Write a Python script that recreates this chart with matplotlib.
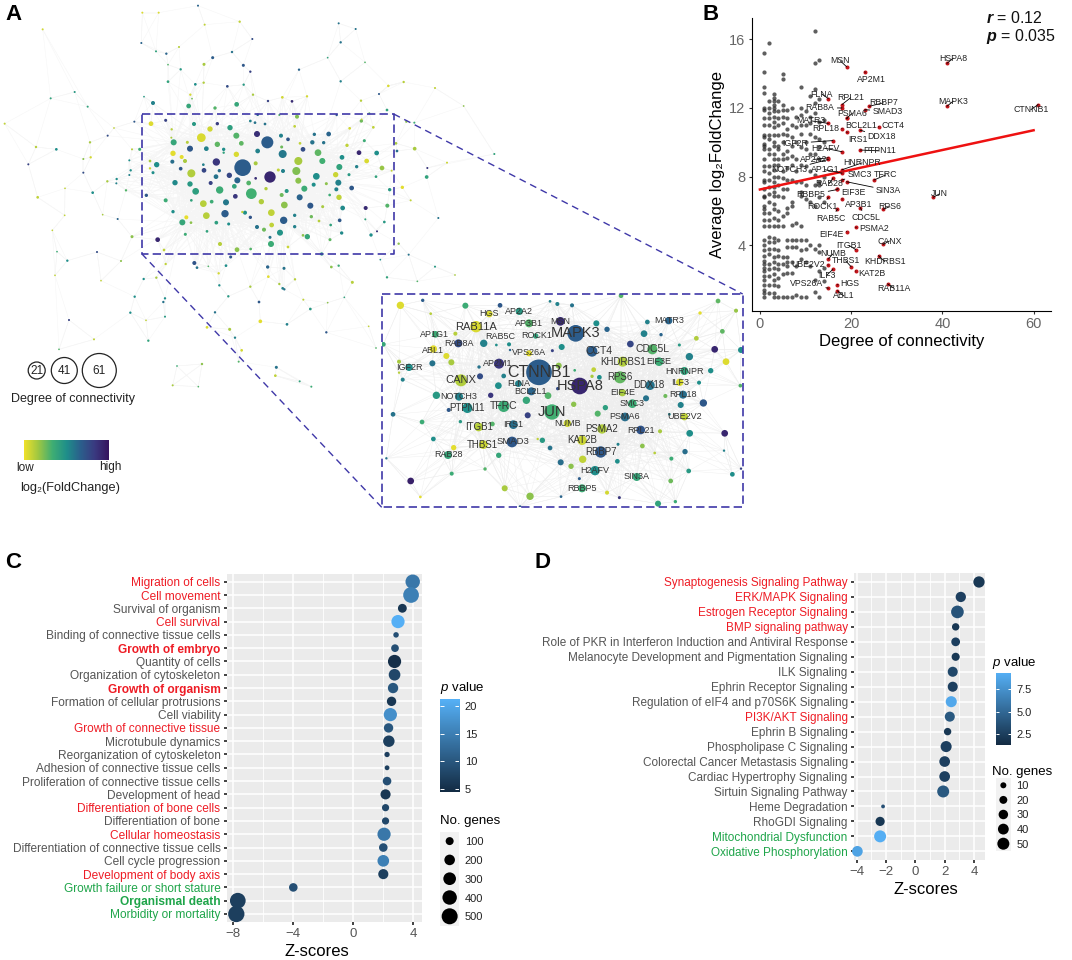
import numpy as np
import matplotlib
matplotlib.use('Agg')
from matplotlib import pyplot as plt
from matplotlib.collections import LineCollection
from matplotlib.colors import LinearSegmentedColormap, Normalize

plt.rcParams['font.family'] = ['Liberation Sans', 'DejaVu Sans']
plt.rcParams['mathtext.fontset'] = 'custom'
plt.rcParams['mathtext.rm'] = 'Liberation Sans'
plt.rcParams['mathtext.it'] = 'Liberation Sans:italic'
plt.rcParams['mathtext.bf'] = 'Liberation Sans:bold'
plt.rcParams['mathtext.bfit'] = 'Liberation Sans:italic:bold'

W, H = 1072, 960

# panel A, overview network: x, y, diameter, fold change rank (high = purple)
net_nodes = [
    (728,203,48,.68),(802,127,34,.68),(810,231,32,.92),(754,281,30,.33),(604,113,24,.05),(574,220,22,.13),
    (587,274,18,.42),(659,270,20,.35),(848,162,22,.58),(895,183,22,.15),(889,213,22,.22),(954,158,18,.28),
    (967,183,16,.33),(895,242,16,.2),(913,266,16,.35),(949,229,18,.5),(1015,248,16,.55),(1018,201,16,.4),
    (1007,224,14,.08),(1017,292,14,.1),(899,292,16,.65),(931,317,16,.7),(851,361,20,.68),(853,315,18,.2),
    (814,338,18,.1),(815,375,12,.1),(840,398,16,.48),(813,432,16,.35),(922,410,14,.38),(1028,324,12,.52),
    (1055,264,12,.7),(1097,324,10,.9),(1077,158,12,.92),(1130,159,12,.5),(1100,183,12,.05),(1146,204,12,.18),
    (1162,317,10,.3),(1113,405,8,.5),(675,341,20,.68),(678,307,16,.58),(619,347,18,.12),(610,311,18,.12),
    (547,367,16,.38),(559,352,10,.02),(473,419,12,.92),(570,252,14,.45),(525,248,14,.52),(521,127,16,.38),
    (519,160,14,.03),(545,171,10,.03),(555,183,10,.15),(570,146,16,.7),(470,194,14,.5),(517,185,10,.62),
    (542,206,9,.7),(497,301,10,.35),(612,211,12,.78),(649,186,20,.85),(630,87,14,.07),(652,133,14,.28),
    (709,107,16,.3),(724,130,12,.28),(771,102,16,.88),(690,83,14,.42),(619,146,12,.55),(671,148,8,.5),
    (709,163,14,.05),(582,72,10,.45),(652,71,8,.82),(453,71,12,.04),(497,61,7,.8),(773,153,12,.55),
    (843,107,10,.55),(864,118,9,.72),(845,141,7,.25),(909,148,12,.75),(937,127,11,.6),(971,128,8,.6),
    (943,103,8,.6),(986,102,12,.65),(1041,136,8,.1),(1093,122,7,.35),(1084,63,8,.25),(1120,82,6,.1),
    (1049,85,6,.07),(900,130,6,.1),(884,79,6,.1),(751,63,6,.55),(765,68,6,.6),(795,72,6,.6),
    (767,190,10,.15),(688,226,14,.78),(712,241,16,.65),(648,230,12,.6),(632,249,10,.8),(658,212,8,.62),
    (746,249,12,.3),(703,259,12,.4),(706,289,12,.85),(767,235,6,.88),(798,266,8,.13),(784,305,14,.13),
    (845,285,10,.25),(860,273,10,.45),(849,213,10,.55),(835,210,7,.1),(941,254,10,.5),(979,251,7,.2),
    (1009,268,10,.55),(989,285,6,.35),(1047,224,7,.45),(1070,200,8,.55),(1026,172,12,.5),(1128,230,6,.4),
    (968,320,7,.15),(934,350,8,.25),(957,363,6,.12),(884,346,8,.55),(884,380,8,.55),(1025,399,8,.52),
    (1019,361,9,.7),(992,375,6,.4),(990,419,7,.28),(909,406,6,.2),(751,352,8,.72),(735,338,10,.5),
    (727,336,5,.1),(771,381,10,.6),(792,389,10,.25),(810,412,7,.6),(864,441,6,.08),(660,432,10,.12),
    (711,449,12,.2),(752,447,6,.3),(492,450,6,.1),(556,403,7,.35),(621,394,6,.4),(649,368,9,.42),
    (686,372,7,.5),(573,368,6,.2),(519,335,8,.5),(574,301,6,.4),(635,305,9,.35),(439,286,8,.7),
    (459,218,7,.5),(450,183,6,.15),(450,205,5,.08),(515,88,5,.12),(514,113,4,.15),(562,127,7,.12),
    (610,194,6,.55),(671,158,5,.4),(1131,394,4,.85),(1096,358,4,.4),
    (14,71,4,.1),(108,141,5,.12),(169,148,6,.5),(85,193,4,.8),(250,177,4,.2),(272,172,5,.06),(270,127,5,.15),
    (323,107,4,.75),(342,84,3,.1),(250,218,4,.75),(195,265,3,.1),(113,292,6,.1),(278,278,6,.5),(322,244,5,.15),
    (350,237,5,.5),(349,250,4,.55),(378,271,5,.3),(388,225,4,.55),(392,211,5,.5),(388,181,4,.5),(403,65,4,.7),
    (396,148,4,.12),(419,148,7,.35),(194,346,3,.1),(308,344,3,.15),(353,357,4,.65),(157,391,3,.1),(396,410,7,.2),
    (171,455,3,.35),(291,456,4,.75),(202,482,5,.5),(363,483,4,.2),(165,526,3,.1),(303,542,3,.1),
    (583,489,10,.72),(591,503,6,.6),(692,471,7,.7),(678,497,6,.5),(625,499,3,.3),(497,492,5,.1),(656,520,5,.06),
    (803,501,8,.65),(852,505,7,.6),(805,530,6,.03),(838,552,5,.15),(848,565,6,.55),(853,568,5,.6),(885,538,5,.12),
    (658,556,5,.5),(751,560,5,.15),(431,537,5,.5),(469,533,5,.15),(404,590,5,.5),(490,606,5,.6),(495,595,5,.5),
    (391,638,5,.5),(207,660,4,.8),(438,661,3,.1),(495,650,4,.45),(282,718,4,.1),(445,722,5,.4),(177,748,3,.3),
    (621,682,6,.05),(689,688,7,.15),(781,664,9,.03),(861,673,6,.55),(705,713,5,.55),(979,697,5,.7),(725,751,6,.06),
    (777,606,6,.7),(685,589,5,.45),(910,599,4,.1),(983,608,3,.2),(1033,592,3,.4),(931,627,6,.45),(645,637,5,.6),
    (531,798,3,.35),(606,792,5,.2),(716,785,4,.3),(829,802,7,.6),(826,827,6,.1),(899,844,4,.4),(934,860,4,.35),
    (518,856,4,.15),(595,860,3,.3),(965,462,8,.45),(1016,497,5,.35),(994,501,6,.2),(1057,547,7,.12),(1141,479,3,.5),
    (1106,679,3,.1),(1128,744,3,.3),
    (128,-212,4,.07),(427,-262,4,.05),(476,-262,4,.05),(594,-283,4,.65),(614,-226,4,.1),(719,-235,5,.1),
    (424,-171,4,.65),(757,-183,4,.75),(468,-146,4,.4),(499,-139,5,.65),(537,-159,4,.12),(638,-127,7,.68),
    (696,-144,5,.6),(504,-106,3,.3),(612,-107,7,.15),(730,-104,7,.7),(751,-85,5,.8),(542,-92,5,.45),(504,-55,6,.4),
    (586,-47,6,.5),(611,-52,5,.13),(682,-41,6,.75),(731,-46,5,.45),(571,-16,5,.06),(576,-4,3,.25),(759,-16,5,.15),
    (432,-10,3,.45),(224,-24,4,.45),(152,-5,4,.4),(263,20,4,.4),(459,9,10,.55),(566,18,12,.38),(645,24,8,.3),
    (710,13,12,.38),(804,3,5,.8),(847,-8,6,.07),(876,4,6,.9),(921,-11,5,.06),(1016,-230,4,.6),(1067,-213,4,.6),
    (1022,-173,5,.6),(983,-127,3,.4),(1095,-113,3,.3),(897,-91,5,.65),(1022,-56,5,.55),(1165,-42,5,.05),
    (1137,-18,4,.7),(1083,2,5,.12),(1161,30,6,.4),(891,50,10,.22),(773,44,6,.65),(838,45,4,.3),(1010,45,5,.7),
    (1108,40,4,.3),(1085,58,3,.1),
    (1165,-43,4,.05),(1211,-54,5,.12),(1305,-36,4,.1),(1391,18,3,.2),(1219,65,5,.2),(1243,68,4,.35),
    (1188,130,6,.15),(1191,153,6,.62),(1244,146,9,.15),(1483,162,4,.4),(1341,188,4,.08),(1175,212,4,.1),
    (1282,204,4,.85),(1280,231,9,.4),(1207,262,8,.03),(1169,269,8,.45),(1232,301,4,.1),
    (1315,354,4,.6),(1153,366,6,.45),(1196,431,5,.2),(1226,464,4,.6),
    (1305,500,4,.45),(1365,525,3,.15),(1161,532,5,.4),(1252,544,3,.3),
]

# zoomed network: x, y, diameter, fold change rank
zoom_nodes = [
    (477,247,75,.68),(587,130,48,.68),(599,288,48,.92),(516,366,44,.33),(288,110,32,.05),(243,271,34,.13),
    (357,221,28,.85),(541,94,24,.9),(720,262,34,.27),(728,215,28,.13),(817,178,28,.3),(837,215,24,.35),
    (649,100,16,.5),(681,118,14,.65),(636,184,30,.68),(545,171,16,.5),(751,162,18,.78),(792,131,18,.55),
    (843,134,8,.65),(802,96,12,.55),(866,92,20,.65),(1014,33,12,.28),(1068,62,10,.18),(960,69,8,.03),
    (1027,124,12,.28),(949,145,12,.13),(898,165,7,.45),(1004,178,18,.92),(1083,180,16,.5),(928,200,20,.55),
    (1038,215,18,.04),(913,243,22,.4),(992,242,14,.5),(957,278,10,.5),(899,277,20,.05),(1081,287,9,.3),
    (810,286,26,.6),(909,314,22,.62),(856,318,10,.25),(970,339,20,.7),(798,325,16,.6),(902,345,16,.55),
    (727,308,20,.15),(757,341,24,.35),(868,373,6,.55),(913,380,20,.1),(735,381,24,.62),(676,353,14,.42),
    (653,371,16,.3),(581,343,14,.2),(504,317,18,.3),(439,331,20,.38),(454,304,22,.65),(533,296,8,.75),
    (415,281,18,.55),(355,287,18,.5),(332,316,14,.85),(300,259,16,.75),(297,231,8,.6),(371,258,12,.55),
    (536,227,16,.2),(584,241,6,.35),(641,239,12,.1),(636,259,8,.15),(658,262,12,.5),(214,217,16,.15),
    (199,198,16,.04),(160,177,20,.03),(226,131,10,.12),(152,71,6,.12),(61,46,20,.04),(128,31,8,.68),
    (256,47,16,.35),(360,46,12,.7),(418,64,20,.45),(447,100,22,.3),(510,34,6,.55),(532,42,10,.55),
    (576,46,10,.6),(328,72,18,.05),(235,160,22,.75),(311,160,20,.55),(349,165,6,.5),(387,163,10,.5),
    (390,180,5,.65),(447,190,16,.03),(517,182,7,.8),(467,138,14,.4),(166,133,18,.35),(87,232,20,.5),
    (57,215,10,.15),(57,248,5,.12),(68,269,10,.55),(157,220,16,.6),(10,163,12,.38),(237,320,22,.55),
    (169,316,20,.45),(262,354,28,.5),(206,360,10,.7),(371,349,32,.35),(443,376,16,.8),(39,373,12,.6),
    (126,396,12,.35),(241,395,8,.45),(296,411,24,.12),(337,402,12,.3),(400,404,24,.62),(562,400,20,.08),
    (666,417,26,.13),(782,420,24,.72),(840,424,10,.15),(929,430,18,.5),(1034,430,18,.92),(160,447,12,.5),
    (396,456,30,.7),(487,451,14,.45),(473,447,5,.1),(221,473,14,.03),(310,464,24,.08),(510,474,12,.6),
    (606,451,26,.08),(662,486,32,.7),(714,463,7,.55),(787,468,12,.2),(824,489,6,.12),(915,485,14,.62),
    (1032,482,5,.55),(204,495,22,.38),(356,496,14,.38),(19,505,5,.6),(608,508,20,.1),(542,517,16,.62),
    (712,514,12,.5),(874,506,10,.35),(573,529,14,.2),(645,542,26,.5),(926,543,12,.45),(1057,553,12,.5),
    (215,551,10,.35),(315,537,8,.3),(598,566,7,.68),(770,561,22,.38),(872,573,12,.25),(92,573,18,.95),
    (374,595,16,.15),(606,595,22,.35),(450,619,20,.2),(681,608,10,.06),(121,621,6,.03),(543,620,6,.65),
    (718,623,7,.85),(834,641,16,.4),(886,635,8,.35),(420,650,6,.7),(723,17,12,.3),(1083,536,5,.8),
]

zoom_labels = [
    ('CTNNB1',477,247,11.5),('MAPK3',587,130,10.5),('HSPA8',599,288,10.5),('JUN',516,366,10.5),('CANX',243,271,8),
    ('RAB11A',288,110,8),('HGS',328,72,6.5),('AP2A2',418,64,6.5),('AP3B1',447,100,6.5),('MSN',542,94,6.5),
    ('MATR3',866,92,6.5),('AP1G1',163,133,6.5),('RAB5C',360,141,6.5),('ROCK1',470,137,6.5),('RAB8A',237,160,6.5),
    ('ABL1',158,181,6.5),('VPS26A',447,187,6.5),('CCT4',657,184,7.5),('CDC5L',817,178,7.5),('KHDRBS1',730,217,7),
    ('EIF3E',837,216,6.5),('AP2M1',352,222,6.5),('IGF2R',87,233,6.5),('HNRNPR',913,244,6.5),('RPS6',720,262,7),
    ('ILF3',899,277,6.5),('FLNA',415,281,6.5),('DDX18',808,286,7),('BCL2L1',452,305,6.5),('EIF4E',727,307,6.5),
    ('RPL18',909,314,6.5),('NOTCH3',237,320,6.5),('SMC3',757,341,6.5),('TFRC',371,349,7.5),('PTPN11',262,354,7),
    ('UBE2V2',913,380,6.5),('PSMA6',735,381,6.5),('NUMB',562,401,6.5),('IRS1',400,404,6.5),('ITGB1',296,411,7),
    ('PSMA2',666,417,7),('RPL21',782,421,6.5),('SMAD3',399,456,6.8),('THBS1',308,464,7),('KAT2B',606,451,7),
    ('RBBP7',662,487,7),('RAB28',204,495,6.5),('H2AFV',645,543,6.5),('SIN3A',770,561,6.5),('RBBP5',606,595,6.5),
]

# panel B: unlabelled genes by degree
free_deg = list(range(1, 15))
free_vals = [
    [15.2,14.1,13.2,12.9,12.0,11.9,11.4,11.0,10.4,10.3,9.9,9.8,9.6,9.0,8.6,8.3,7.8,7.7,7.3,6.9,6.8,6.3,6.1,5.9,5.5,5.1,4.3,4.0,3.7,3.4,3.1,2.9,2.7,2.5,2.2,2.0,1.7,1.4,1.2,1.0],
    [15.8,12.4,12.0,11.7,11.4,11.0,10.4,10.2,9.6,9.3,8.6,8.2,7.8,7.4,7.0,6.5,5.9,5.5,5.1,4.5,4.2,3.8,3.5,2.9,2.6,2.2,1.7,1.2],
    [12.8,12.6,12.4,12.2,12.0,11.8,11.5,11.2,10.9,10.4,10.0,9.8,9.3,9.0,8.7,8.4,8.0,7.7,7.4,7.1,6.9,6.4,6.1,5.6,5.1,4.4,4.2,3.8,3.3,3.0,2.7,2.3,2.0,1.7,1.2,1.0],
    [12.4,11.8,11.4,11.0,10.4,9.8,9.6,9.0,8.7,8.0,7.5,6.9,6.0,5.5,5.1,4.3,3.7,3.4,2.9,2.6,2.1,1.6,1.0],
    [14.0,13.7,12.2,11.9,11.5,11.1,10.5,10.0,9.3,9.0,8.3,7.9,7.3,6.8,5.7,5.1,3.3,2.9,2.3,1.0],
    [11.9,11.4,10.8,10.4,9.5,9.1,8.5,7.8,7.3,6.2,5.9,4.3,3.9,3.3,3.0,2.8,2.4,1.0],
    [12.0,11.0,10.3,9.8,9.2,8.7,7.8,6.5,6.3,5.2,4.3,3.9,3.0,2.4,1.0],
    [11.5,10.9,10.0,9.0,8.3,7.7,5.3,4.3,3.9,2.8,1.1],
    [13.2,12.0,11.6,11.0,10.5,9.7,8.7,7.7,7.1,6.9,5.1,4.3,3.7,3.2,1.0],
    [11.8,11.0,10.0,9.6,8.6,7.5,6.7,4.3,3.8,3.0,1.0],
    [12.7,11.5,11.1,10.5,9.3,8.3,6.5,4.0,2.8],
    [16.5,14.6,13.1,12.3,11.7,10.3,9.3,8.1,7.5,6.3,3.8,2.0,1.3],
    [14.8,12.5,11.2,10.2,9.7,9.0,7.7,7.5,6.8,4.0,3.6,2.5,1.0],
    [11.3,10.0,8.0,6.5,2.7,1.9],
]

# gene, degree, value, label x, label y
gene_names = ['CTNNB1','HSPA8','MAPK3','JUN','MSN','AP2M1','FLNA','RPL21','RBBP7','RAB8A','PSMA6','SMAD3','MATR3','BCL2L1',
              'CCT4','RPL18','IRS1','DDX18','IGF2R','H2AFV','PTPN11','AP2A2','HNRNPR','NOTCH3','AP1G1','SMC3','TFRC','RAB28',
              'SIN3A','EIF3E','RBBP5','ROCK1','AP3B1','RPS6','RAB5C','CDC5L','PSMA2','EIF4E','CANX','ITGB1','NUMB','KHDRBS1',
              'THBS1','UBE2V2','KAT2B','ILF3','HGS','RAB11A','VPS26A','ABL1']
gene_deg = [61,41,41,38,19,23,15,18,24,18,19,23,15,19,26,18,19,22,16,18,22,15,18,15,18,18,25,16,19,17,17,15,18,27,17,22,21,19,27,21,
            15,26,20,15,21,16,17,28,15,17]
gene_val = [12.2,14.6,12.1,6.8,14.4,14.1,12.55,12.2,12.1,12.0,11.4,11.9,11.1,11.4,10.9,10.8,10.6,10.7,10.1,9.45,9.55,9.1,8.4,9.0,8.2,
            7.8,7.8,7.9,7.7,7.3,7.25,6.8,6.7,6.1,6.1,6.2,5.05,4.8,4.05,3.75,3.2,3.4,2.75,2.85,2.5,2.6,1.7,1.75,1.5,1.35]
gene_lab_x = [59.4,42.4,42.4,39.4,17.6,24.4,13.6,19.9,27.1,13.2,20.3,28,11.2,22.2,29.2,14.4,21.4,26.7,7.8,14.3,26.2,11.8,22.4,6.4,14.3,
              21.9,27.6,15.2,28.2,20.5,11.2,13.7,21.7,28.5,15.6,23.2,25,15.7,28.4,19.5,16.0,27.4,18.8,10.6,24.6,14.6,19.8,29.4,10.2,18.4]
gene_lab_y = [11.9,14.9,12.4,7.0,14.75,13.65,12.8,12.6,12.3,12.0,11.7,11.8,11.25,10.95,11.0,10.8,10.15,10.35,9.95,9.65,9.5,9.0,8.8,8.4,
              8.4,8.15,8.1,7.6,7.2,7.05,6.95,6.25,6.35,6.25,5.55,5.6,4.95,4.65,4.25,4.0,3.5,3.05,3.1,2.9,2.35,2.25,1.8,1.5,1.75,1.05]
fit_deg = [0, 60]
fit_val = [7.25, 10.7]

# panel C
c_terms = ['Migration of cells','Cell movement','Survival of organism','Cell survival','Binding of connective tissue cells',
           'Growth of embryo','Quantity of cells','Organization of cytoskeleton','Growth of organism',
           'Formation of cellular protrusions','Cell viability','Growth of connective tissue','Microtubule dynamics',
           'Reorganization of cytoskeleton','Adhesion of connective tissue cells','Proliferation of connective tissue cells',
           'Development of head','Differentiation of bone cells','Differentiation of bone','Cellular homeostasis',
           'Differentiation of connective tissue cells','Cell cycle progression','Development of body axis',
           'Growth failure or short stature','Organismal death','Morbidity or mortality']
c_z = [3.96,3.85,3.27,2.98,2.85,2.78,2.75,2.75,2.65,2.55,2.47,2.35,2.37,2.25,2.25,2.25,2.15,2.15,2.15,2.05,2.0,2.0,2.0,-4.0,-7.7,-7.8]
c_genes = [400,480,130,330,30,90,330,250,190,150,330,150,240,25,15,120,180,75,75,330,120,250,180,120,480,520]
c_p = [14,15,6,21,9,9,5,8,10,6,17,10,7,7,7,9,6,8,8,14,9,15,7,9,7,7]
c_colors = ['r','r','g0','r','g0','rb','g0','g0','rb','g0','g0','r','g0','g0','g0','g0','g0','r','g0','r','g0','g0','r','g','gb','g']

# panel D
d_terms = ['Synaptogenesis Signaling Pathway','ERK/MAPK Signaling','Estrogen Receptor Signaling','BMP signaling pathway',
           'Role of PKR in Interferon Induction and Antiviral Response','Melanocyte Development and Pigmentation Signaling',
           'ILK Signaling','Ephrin Receptor Signaling','Regulation of eIF4 and p70S6K Signaling','PI3K/AKT Signaling',
           'Ephrin B Signaling','Phospholipase C Signaling','Colorectal Cancer Metastasis Signaling',
           'Cardiac Hypertrophy Signaling','Sirtuin Signaling Pathway','Heme Degradation','RhoGDI Signaling',
           'Mitochondrial Dysfunction','Oxidative Phosphorylation']
d_z = [4.34,3.1,2.87,2.75,2.75,2.75,2.55,2.55,2.45,2.35,2.2,2.1,2.0,2.0,1.9,-2.2,-2.4,-2.4,-3.95]
d_genes = [44,36,56,17,25,21,34,34,42,34,17,42,39,39,50,2,28,50,39]
d_p = [2,2.5,3.7,2,2.5,2,3,2.5,8.8,4,2,2.5,2.5,2.5,4,3.5,2,9.2,8.5]
d_colors = ['r','r','r','r','g0','g0','g0','g0','g0','r','g0','g0','g0','g0','g0','g0','g0','g','g']

label_style = {'r': ('#ee1c25', 'normal'), 'rb': ('#ee1c25', 'bold'), 'g': ('#1fa54a', 'normal'),
               'gb': ('#1fa54a', 'bold'), 'g0': ('#555555', 'normal')}
p_cmap = LinearSegmentedColormap.from_list('p', ['#132B43', '#56B1F7'])
fc_cmap = LinearSegmentedColormap.from_list('fc', ['#f0e12a', '#9fc742', '#3fae73', '#1f8f8a', '#2b5f8c', '#3a3a80', '#36145f'])
BOX = '#3f38a8'


def ax_px(l, t, r, b, **kw):
    return fig.add_axes([l / W, 1 - b / H, (r - l) / W, (b - t) / H], **kw)


def d2s(d):
    # diameter in pixels to scatter area
    return (np.asarray(d, dtype=float) * 0.72) ** 2


def nearest_edges(x, y, k):
    segs = []
    for i in range(len(x)):
        dist = np.hypot(x - x[i], y - y[i])
        for j in np.argsort(dist)[1:k + 1]:
            segs.append([(x[i], y[i]), (x[j], y[j])])
    return segs


def draw_net(ax, nodes, k, reach, lw, col):
    arr = np.array(nodes, dtype=float)
    x, y, d, v = arr.T
    segs = nearest_edges(x, y, k)
    # the big hubs reach out to everything around them
    for h in np.argsort(d)[-25:]:
        dist = np.hypot(x - x[h], y - y[h])
        for j in np.where(dist < reach)[0]:
            segs.append([(x[h], y[h]), (x[j], y[j])])
    ax.add_collection(LineCollection(segs, colors=col, linewidths=lw, zorder=1))
    # sizes were read at 3x
    ax.scatter(x, y, s=d2s(d / 3 + 0.7), c=v, cmap=fc_cmap, vmin=0, vmax=1, linewidths=0, zorder=2)


def bubble_panel(ax, terms, z, genes, p, colors, xlim, xticks, minor, norm, size_fn, fs):
    n = len(terms)
    yy = np.arange(n)
    ax.set_facecolor('#EBEBEB')
    ax.set_xlim(xlim)
    ax.set_ylim(n - 1 + 0.58, -0.58)
    ax.set_xticks(xticks)
    ax.set_xticks(minor, minor=True)
    ax.set_yticks(yy)
    ax.set_yticklabels(terms, fontsize=fs)
    ax.grid(True, which='major', color='white', lw=1.1)
    ax.grid(True, which='minor', axis='x', color='white', lw=0.6)
    ax.set_axisbelow(True)
    ax.scatter(z, yy, s=d2s(size_fn(np.array(genes))), c=p, cmap=p_cmap, norm=norm, linewidths=0, zorder=3, clip_on=False)
    for sp in ax.spines.values():
        sp.set_visible(False)
    ax.tick_params(axis='y', which='major', length=2.5, width=1.2, color='#222222', pad=2)
    ax.tick_params(axis='x', which='major', length=2.5, width=1.2, color='#222222', pad=2, labelsize=9.5, labelcolor='#555555')
    ax.tick_params(axis='x', which='minor', length=0)
    ax.xaxis.set_major_formatter(plt.FuncFormatter(lambda v, pos: str(int(v)).replace('-', '\u2212')))
    for lab, key in zip(ax.get_yticklabels(), colors):
        lab.set_color(label_style[key][0])
        lab.set_fontweight(label_style[key][1])


def p_bar(l, t, r, b, norm, ticks, fmt):
    ax = ax_px(l, t, r, b)
    grad = np.linspace(1, 0, 256).reshape(-1, 1)
    ax.imshow(grad, cmap=p_cmap, aspect='auto', extent=(0, 1, norm.vmin, norm.vmax))
    ax.hlines(ticks, 0, 0.2, color='white', lw=0.7)
    ax.hlines(ticks, 0.8, 1, color='white', lw=0.7)
    ax.set_xlim(0, 1)
    ax.set_xticks([])
    ax.set_yticks(ticks)
    ax.set_yticklabels([fmt % t for t in ticks], fontsize=8, color='#222222')
    ax.yaxis.tick_right()
    ax.tick_params(axis='y', length=0, pad=4)
    for sp in ax.spines.values():
        sp.set_visible(False)


def size_key(l, t, r, b, sizes, size_fn, fontsize=8):
    ax = ax_px(l, t, r, b)
    ax.set_facecolor('#F2F2F2')
    n = len(sizes)
    ax.set_xlim(0, 1)
    ax.set_ylim(n - 0.5, -0.5)
    ax.scatter([0.5] * n, range(n), s=d2s(size_fn(np.array(sizes))), c='black', linewidths=0)
    ax.set_xticks([])
    ax.set_yticks(range(n))
    ax.set_yticklabels([str(s) for s in sizes], fontsize=fontsize, color='#222222')
    ax.yaxis.tick_right()
    ax.tick_params(axis='y', length=0, pad=4)
    for sp in ax.spines.values():
        sp.set_visible(False)


fig = plt.figure(figsize=(W / 100, H / 100), dpi=100)

# ---- panel A
ax_net = ax_px(0, 0, 720, 500)
ax_net.set_xlim(0, 2160)
ax_net.set_ylim(1200, -300)
ax_net.axis('off')
draw_net(ax_net, net_nodes, 3, 240, 0.35, '#f5f5f5')

ax_zoom = ax_px(381.7, 294, 742.7, 507.3)
ax_zoom.set_xlim(5, 1088)
ax_zoom.set_ylim(652, 12)
ax_zoom.set_facecolor('white')
ax_zoom.set_xticks([])
ax_zoom.set_yticks([])
for sp in ax_zoom.spines.values():
    sp.set_visible(False)
draw_net(ax_zoom, zoom_nodes, 6, 300, 0.3, '#eeeeee')
for name, x, y, fs in zoom_labels:
    ax_zoom.text(x, y, name, fontsize=fs, color='#333333', ha='center', va='center', zorder=4, clip_on=True)

# ---- panel B
ax_b = ax_px(751.7, 18, 1050.7, 310.7)
ax_b.set_xlim(-1.8, 63.75)
ax_b.set_ylim(0.19, 17.24)
for deg, vals in zip(free_deg, free_vals):
    ax_b.scatter([deg] * len(vals), vals, s=d2s(4.2), c='#222222', alpha=0.72, linewidths=0, zorder=2)
ax_b.plot(fit_deg, fit_val, color='#ee1111', lw=1.8, zorder=3)
ax_b.scatter(gene_deg, gene_val, s=d2s(4.0), c='#c4161c', linewidths=0, zorder=4)
for name, gx, gy, lx, ly in zip(gene_names, gene_deg, gene_val, gene_lab_x, gene_lab_y):
    ax_b.annotate(name, xy=(gx, gy), xytext=(lx, ly), fontsize=6.3, color='#222222', ha='center', va='center', zorder=5,
                  arrowprops=dict(arrowstyle='-', color='black', lw=0.6, shrinkA=0, shrinkB=0))
ax_b.set_xticks([0, 20, 40, 60])
ax_b.set_yticks([4, 8, 12, 16])
ax_b.tick_params(labelsize=10.5, labelcolor='#666666', length=2.5, width=0.8, color='#333333', pad=2)
ax_b.spines['top'].set_visible(False)
ax_b.spines['right'].set_visible(False)
ax_b.set_xlabel('Degree of connectivity', fontsize=12, labelpad=2)
ax_b.set_ylabel('Average log\u2082FoldChange', fontsize=12, labelpad=3)

# ---- panel C
c_norm = Normalize(4.46, 21.2)
c_size = lambda n: np.sqrt(16 + 0.48 * n)
ax_c = ax_px(226.7, 574, 421.7, 921.7)
bubble_panel(ax_c, c_terms, c_z, c_genes, c_p, c_colors, (-8.44, 4.56), [-8, -4, 0, 4], [-6, -2, 2], c_norm, c_size, 8.6)
p_bar(440, 699.3, 459.3, 791.7, c_norm, [5, 10, 15, 20], '%d')
size_key(440, 831.7, 459.3, 925.7, [100, 200, 300, 400, 500], c_size)

# ---- panel D
d_norm = Normalize(1.23, 9.36)
d_size = lambda n: np.sqrt(9 + 2.7 * n)
ax_d = ax_px(854, 573.3, 985, 860)
bubble_panel(ax_d, d_terms, d_z, d_genes, d_p, d_colors, (-4.18, 4.75), [-4, -2, 0, 2, 4], [-3, -1, 1, 3], d_norm, d_size, 8.5)
p_bar(996, 672.7, 1010.7, 745.3, d_norm, [2.5, 5.0, 7.5], '%.1f')
size_key(996, 778, 1010.7, 851, [10, 20, 30, 40, 50], d_size)

# ---- annotations on top, in figure pixels
ax_top = ax_px(0, 0, W, H)
ax_top.set_xlim(0, W)
ax_top.set_ylim(H, 0)
ax_top.axis('off')
ax_top.patch.set_alpha(0)

ax_top.plot([141.7, 393.7, 393.7, 141.7, 141.7], [114, 114, 253.7, 253.7, 114], color=BOX, lw=1.2, ls=(0, (5, 2.5)))
ax_top.plot([381.7, 742.7, 742.7, 381.7, 381.7], [294, 294, 507.3, 507.3, 294], color=BOX, lw=1.2, ls=(0, (5, 2.5)))
ax_top.plot([141.7, 381.7], [253.7, 507.3], color=BOX, lw=1.0, ls=(0, (5, 3.5)))
ax_top.plot([393.7, 742.7], [114, 294], color=BOX, lw=1.0, ls=(0, (5, 3.5)))

leg_deg = ['21', '41', '61']
leg_x = [36.7, 64.3, 99.3]
leg_d = [17, 26, 34]
ax_top.scatter(leg_x, [370.5] * 3, s=d2s(leg_d), facecolors='white', edgecolors='#222222', linewidths=0.9)
for t, x in zip(leg_deg, leg_x):
    ax_top.text(x, 371, t, fontsize=8.5, ha='center', va='center', color='#222222')
ax_top.text(73, 398.7, 'Degree of connectivity', fontsize=9, ha='center', va='center', color='#222222')
ax_top.text(25, 468, 'low', fontsize=8.5, ha='center', va='center', color='#222222')
ax_top.text(110, 467, 'high', fontsize=8.5, ha='center', va='center', color='#222222')
ax_top.text(70, 488, 'log\u2082(FoldChange)', fontsize=9.2, ha='center', va='center', color='#222222')

for t, x, y in [('A', 13, 15), ('B', 711, 15), ('C', 13, 562), ('D', 542, 562)]:
    ax_top.text(x, y, t, fontsize=16, fontweight='bold', ha='center', va='center', color='black')

ax_top.text(986, 18, r'$\mathbfit{r}$ = 0.12', fontsize=11.5, va='center', color='#111111')
ax_top.text(986, 37, r'$\mathbfit{p}$ = 0.035', fontsize=11.5, va='center', color='#111111')

ax_top.text(316.7, 951.7, 'Z-scores', fontsize=12, ha='center', va='center', color='black')
ax_top.text(925.7, 890, 'Z-scores', fontsize=12, ha='center', va='center', color='black')
ax_top.text(440, 688, r'$\mathit{p}$ value', fontsize=9.5, va='center', color='black')
ax_top.text(440, 821, 'No. genes', fontsize=9.5, va='center', color='black')
ax_top.text(992, 663, r'$\mathit{p}$ value', fontsize=9.5, va='center', color='black')
ax_top.text(992, 772, 'No. genes', fontsize=9.5, va='center', color='black')

ax_bar = ax_px(24, 440, 109, 460)
ax_bar.imshow(np.linspace(0, 1, 256).reshape(1, -1), cmap=fc_cmap, aspect='auto')
ax_bar.axis('off')

fig.savefig('out.png', dpi=100)
